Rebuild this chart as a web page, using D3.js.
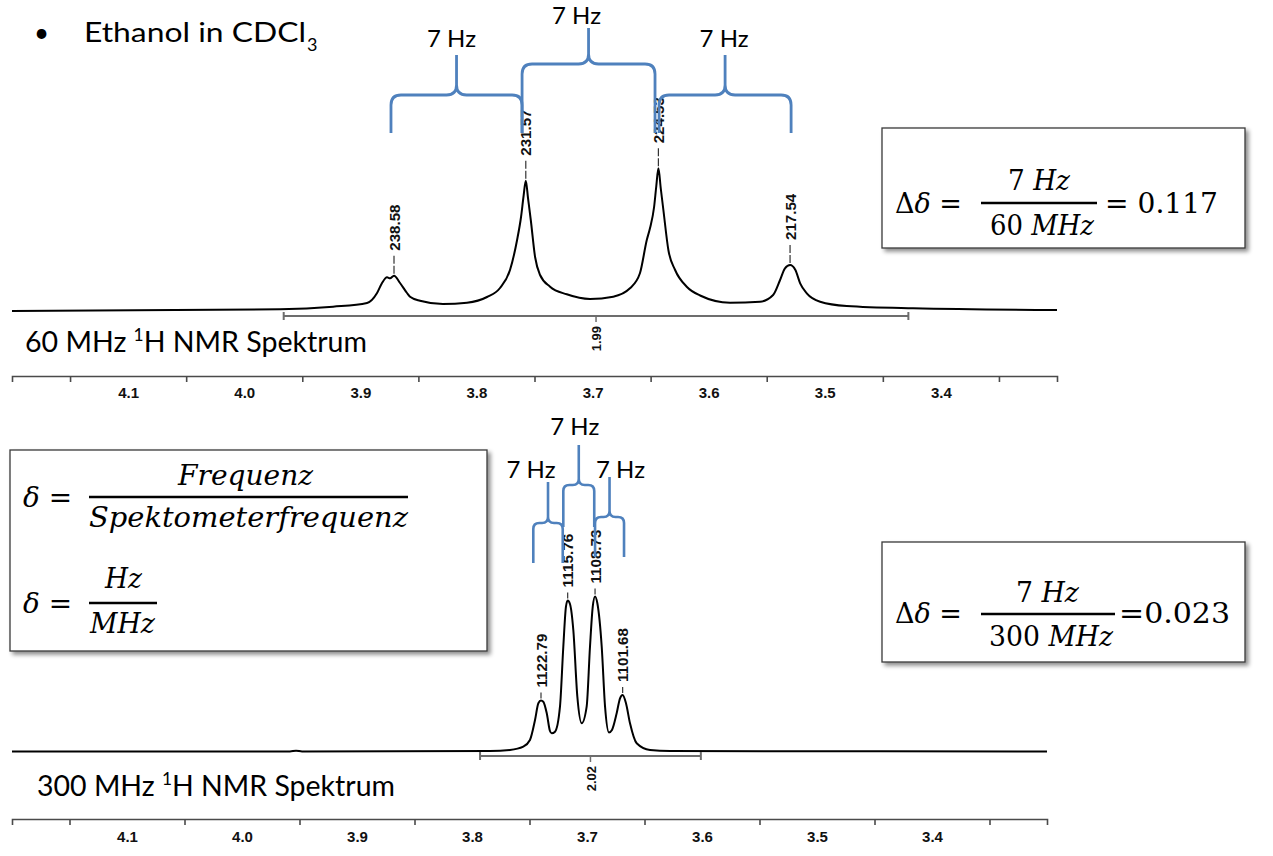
<!DOCTYPE html>
<html><head><meta charset="utf-8">
<script src="https://cdn.jsdelivr.net/npm/d3@7"></script>
<style>body{margin:0;background:#fff}</style>
</head><body>
<svg id="c" width="1273" height="856"></svg>
<script>
// ---------------- DATA ----------------
// 60 MHz spectrum (ppm, intensity)
const topPpm = [4.2000,3.9692,3.9235,3.8942,3.8856,3.8813,3.8770,3.8744,3.8710,3.8658,3.8598,3.8572,3.8486,3.8288,3.8081,3.7909,3.7797,3.7711,3.7650,3.7616,3.7594,3.7575,3.7556,3.7532,3.7495,3.7452,3.7366,3.7222,3.7022,3.6822,3.6678,3.6592,3.6533,3.6505,3.6470,3.6451,3.6433,3.6412,3.6390,3.6347,3.6289,3.6189,3.6074,3.5816,3.5557,3.5445,3.5385,3.5343,3.5299,3.5253,3.5212,3.5155,3.5040,3.4811,3.4240,3.3000];
const topInt = [0,1.7,4.3,8,18,28,33.7,32.7,35.3,28,18,14.3,10.3,7,8.3,14,23,41,71,94,115,130.3,113,91,54,36,24.3,16.7,12,14.3,22.7,37.7,71,83,104,125,142.7,122,101,61,41,24.3,15.5,8.3,9.3,16,31,42.7,46,41,27.7,17.7,9.3,5,2.7,1];
const topPeakLabels = ["238.58","231.57","224.53","217.54"];
const topPeakPpm = [3.8710,3.7575,3.6433,3.5299];
const topPeakInt = [35.3,130.3,142.7,46];
const topIntegral = {from:3.966, to:3.428, label:"1.99"};
const topBraces = [[3.8736,3.7607],[3.7607,3.6462],[3.6427,3.5290]];

// 300 MHz spectrum
const botPpm = [4.2000,3.9583,3.9530,3.9478,3.7843,3.7670,3.7554,3.7496,3.7452,3.7423,3.7400,3.7380,3.7350,3.7322,3.7307,3.7278,3.7235,3.7206,3.7183,3.7168,3.7148,3.7119,3.7084,3.7046,3.7003,3.6974,3.6950,3.6930,3.6910,3.6872,3.6843,3.6809,3.6783,3.6742,3.6713,3.6690,3.6661,3.6626,3.6568,3.6452,3.6278,3.3000];
const botInt = [0,0,0.8,0,0.5,1.5,4.8,11.5,31.5,48.2,51,49.8,38.2,20.5,18.2,19.8,44.8,104.8,144.8,151,147.5,121.5,54.8,28.2,44.8,104.8,144.8,155,148.2,104.8,44.8,19,21.5,38.2,53.2,56.5,48.2,28.2,8.2,1.5,0.5,0];
const botPeakLabels = ["1122.79","1115.76","1108.73","1101.68"];
const botPeakPpm = [3.7400,3.7168,3.6930,3.6690];
const botPeakInt = [51,151,155,56.5];
const botIntegral = {from:3.793, to:3.601, label:"2.02"};
const botBraces = [[3.7467,3.7211],[3.7206,3.6937],[3.6930,3.6678]];

const axisLabelTicks = [4.1,4.0,3.9,3.8,3.7,3.6,3.5,3.4];
const axisMinorTicks = [4.15,4.05,3.95,3.85,3.75,3.65,3.55,3.45,3.35];
const braceText = "7 Hz";

// ---------------- DRAW ----------------
const svg = d3.select("#c");
const defs = svg.append("defs");
const f = defs.append("filter").attr("id","sh").attr("x","-5%").attr("y","-5%").attr("width","115%").attr("height","125%");
f.append("feDropShadow").attr("dx",3).attr("dy",3).attr("stdDeviation",2).attr("flood-color","#000").attr("flood-opacity",0.45);

const BLUE = "#4f81bd";
const SANS = "Lato, 'Open Sans', sans-serif";
const SERIF = "'DejaVu Serif', 'Liberation Serif', serif";
const ARIAL = "'Liberation Sans', Arial, sans-serif";

function drawSpectrum(ppm, inten, peakLabels, peakPpm, peakInt, integral, braces, L) {
  const g = svg.append("g");
  const x = d3.scaleLinear().domain([4.2,3.3]).range(L.xRange);
  const y = d3.scaleLinear().domain([0,100]).range([L.baseY, L.baseY-100]);
  const pts = ppm.map((p,i)=>[p,inten[i]]);
  g.append("path").datum(pts)
    .attr("d", d3.line().x(d=>x(d[0])).y(d=>y(d[1])).curve(d3.curveMonotoneX))
    .attr("fill","none").attr("stroke","#000").attr("stroke-width",2);

  // peak labels
  peakLabels.forEach((lab,i)=>{
    const px = x(peakPpm[i]), py = y(peakInt[i]);
    g.append("line").attr("x1",px).attr("x2",px).attr("y1",py-2).attr("y2",py-2-L.tickLen)
      .attr("stroke","#333").attr("stroke-width",1.2).attr("stroke-dasharray",L.dash);
    g.append("text").attr("transform",`translate(${px+0.5},${py-5-L.tickLen}) rotate(-90)`)
      .attr("dy","0.36em").attr("font-family",ARIAL).attr("font-weight","bold")
      .attr("font-size",14).attr("fill","#111")
      .attr("textLength",lab.length*7.7).attr("lengthAdjust","spacingAndGlyphs").text(lab);
  });

  // integral
  const ix1 = x(integral.from), ix2 = x(integral.to), iy = L.intY, im=(ix1+ix2)/2;
  const ig = g.append("g").attr("stroke","#6d6d6d").attr("stroke-width",2);
  ig.append("line").attr("x1",ix1).attr("x2",ix2).attr("y1",iy).attr("y2",iy);
  ig.append("line").attr("x1",ix1).attr("x2",ix1).attr("y1",iy-4).attr("y2",iy+4);
  ig.append("line").attr("x1",ix2).attr("x2",ix2).attr("y1",iy-4).attr("y2",iy+4);
  ig.append("line").attr("x1",im).attr("x2",im).attr("y1",iy).attr("y2",iy+6).attr("stroke-width",1.5);
  g.append("text").attr("transform",`translate(${im+0.5},${iy+10}) rotate(-90)`)
    .attr("dy","0.36em").attr("text-anchor","end").attr("font-family",ARIAL).attr("font-weight","bold")
    .attr("font-size",13).attr("fill","#111").text(integral.label);

  // axis
  const ax = g.append("g").attr("transform",`translate(0,${L.axisY})`)
    .call(d3.axisBottom(x).tickValues(axisMinorTicks).tickFormat("").tickSizeInner(6).tickSizeOuter(6));
  ax.selectAll("path,line").attr("stroke","#4a4a4a").attr("stroke-width",1.6);
  const al = g.append("g").attr("transform",`translate(0,${L.axisY})`)
    .call(d3.axisBottom(x).tickValues(axisLabelTicks).tickFormat(d3.format(".1f")).tickSize(0).tickPadding(L.labPad));
  al.select(".domain").remove();
  al.selectAll("text").attr("font-family",ARIAL).attr("font-weight","bold").attr("font-size",15).attr("fill","#111");

  // braces
  braces.forEach((b,i)=>{
    const G = L.brace[i], r = L.braceR;
    const x1 = x(b[0]), x2 = x(b[1]), xm = (x1+x2)/2;
    const d = `M${x1},${G.yBot} L${x1},${G.yH+r} Q${x1},${G.yH} ${x1+r},${G.yH} L${xm-r},${G.yH} Q${xm},${G.yH} ${xm},${G.yH-r} L${xm},${G.yTop} M${xm},${G.yH-r} Q${xm},${G.yH} ${xm+r},${G.yH} L${x2-r},${G.yH} Q${x2},${G.yH} ${x2},${G.yH+r} L${x2},${G.yBot}`;
    g.append("path").attr("d",d).attr("fill","none").attr("stroke",BLUE).attr("stroke-width",L.braceW);
    g.append("text").attr("x",xm+G.dx).attr("y",G.ty).attr("text-anchor","middle")
      .attr("font-family",SANS).attr("font-size",24).attr("fill","#000").text(braceText);
  });
  return g;
}

drawSpectrum(topPpm, topInt, topPeakLabels, topPeakPpm, topPeakInt, topIntegral, topBraces, {
  xRange:[12,1057], baseY:311, intY:316, axisY:376, labPad:11, tickLen:20, dash:"8,2",
  braceR:10, braceW:2.8,
  brace:[{yH:95,yTop:55,yBot:133,dx:-5,ty:47},{yH:64,yTop:28,yBot:133,dx:-12,ty:24},{yH:95,yTop:55,yBot:133,dx:-1,ty:47}]
});
drawSpectrum(botPpm, botInt, botPeakLabels, botPeakPpm, botPeakInt, botIntegral, botBraces, {
  xRange:[12,1047], baseY:751.5, intY:756, axisY:819, labPad:12, tickLen:8, dash:"6,2",
  braceR:6, braceW:2.6,
  brace:[{yH:523,yTop:482,yBot:563,dx:-17,ty:478},{yH:485,yTop:445,yBot:527,dx:-4,ty:435},{yH:517,yTop:477,yBot:557,dx:11,ty:478}]
});

// ---------------- TEXT ----------------
function sans(x,y,txt,size,len){
  const t = svg.append("text").attr("x",x).attr("y",y).attr("font-family",SANS).attr("font-size",size).attr("fill","#000").text(txt);
  if(len) t.attr("textLength",len).attr("lengthAdjust","spacingAndGlyphs");
  return t;
}
sans(34,42,"•",26);
sans(84,42,"Ethanol in CDCl",27,222);
sans(307,51,"3",18);

function specLabel(x,y,a,b,len){
  const t = svg.append("text").attr("x",x).attr("y",y).attr("font-family",SANS).attr("font-size",28).attr("fill","#000")
    .attr("textLength",len).attr("lengthAdjust","spacingAndGlyphs");
  t.append("tspan").text(a+" ");
  t.append("tspan").attr("font-size",17).attr("dy",-11).text("1");
  t.append("tspan").attr("dy",11).text(b);
}
specLabel(25,352,"60 MHz","H NMR Spektrum",342);
specLabel(37,796,"300 MHz","H NMR Spektrum",358);

// ---------------- FORMULA BOXES ----------------
function box(x,y,w,h){
  svg.append("rect").attr("x",x).attr("y",y).attr("width",w).attr("height",h)
    .attr("fill","#fff").attr("stroke","#3a3a3a").attr("stroke-width",1.3).attr("filter","url(#sh)");
}
function mtext(x,y,parts,len){
  const t = svg.append("text").attr("x",x).attr("y",y).attr("font-family",SERIF).attr("font-size",27).attr("fill","#000");
  parts.forEach(p=>t.append("tspan").attr("font-style",p[1]?"italic":"normal").text(p[0]));
  if(len) t.attr("textLength",len).attr("lengthAdjust","spacingAndGlyphs");
  return t;
}
function bar(x1,x2,y){
  svg.append("line").attr("x1",x1).attr("x2",x2).attr("y1",y).attr("y2",y).attr("stroke","#000").attr("stroke-width",2.6);
}

// top right box
box(882,128,363,120);
mtext(895,213,[["Δ",0],["δ",1],[" =",0]],67);
mtext(1008,190,[["7 ",0],["Hz",1]],62);
bar(981,1097,203);
mtext(990,235,[["60 ",0],["MHz",1]],104);
mtext(1105,213,[["= 0.117",0]],113);

// bottom right box
box(882,542,363,120);
mtext(895,623,[["Δ",0],["δ",1],[" =",0]],67);
mtext(1016,602,[["7 ",0],["Hz",1]],63);
bar(981,1115,614);
mtext(989,646,[["300 ",0],["MHz",1]],124);
mtext(1119,623,[["=0.023",0]],111);

// left box
box(10,450,477,201);
mtext(23,507,[["δ",1],[" =",0]],49);
mtext(178,485,[["Frequenz",1]],135);
bar(89,408,497);
mtext(89,527,[["Spektometerfrequenz",1]],319);
mtext(23,613,[["δ",1],[" =",0]],49);
mtext(105,588,[["Hz",1]],37);
bar(89,157,603);
mtext(90,633,[["MHz",1]],65);
</script>
</body></html>
